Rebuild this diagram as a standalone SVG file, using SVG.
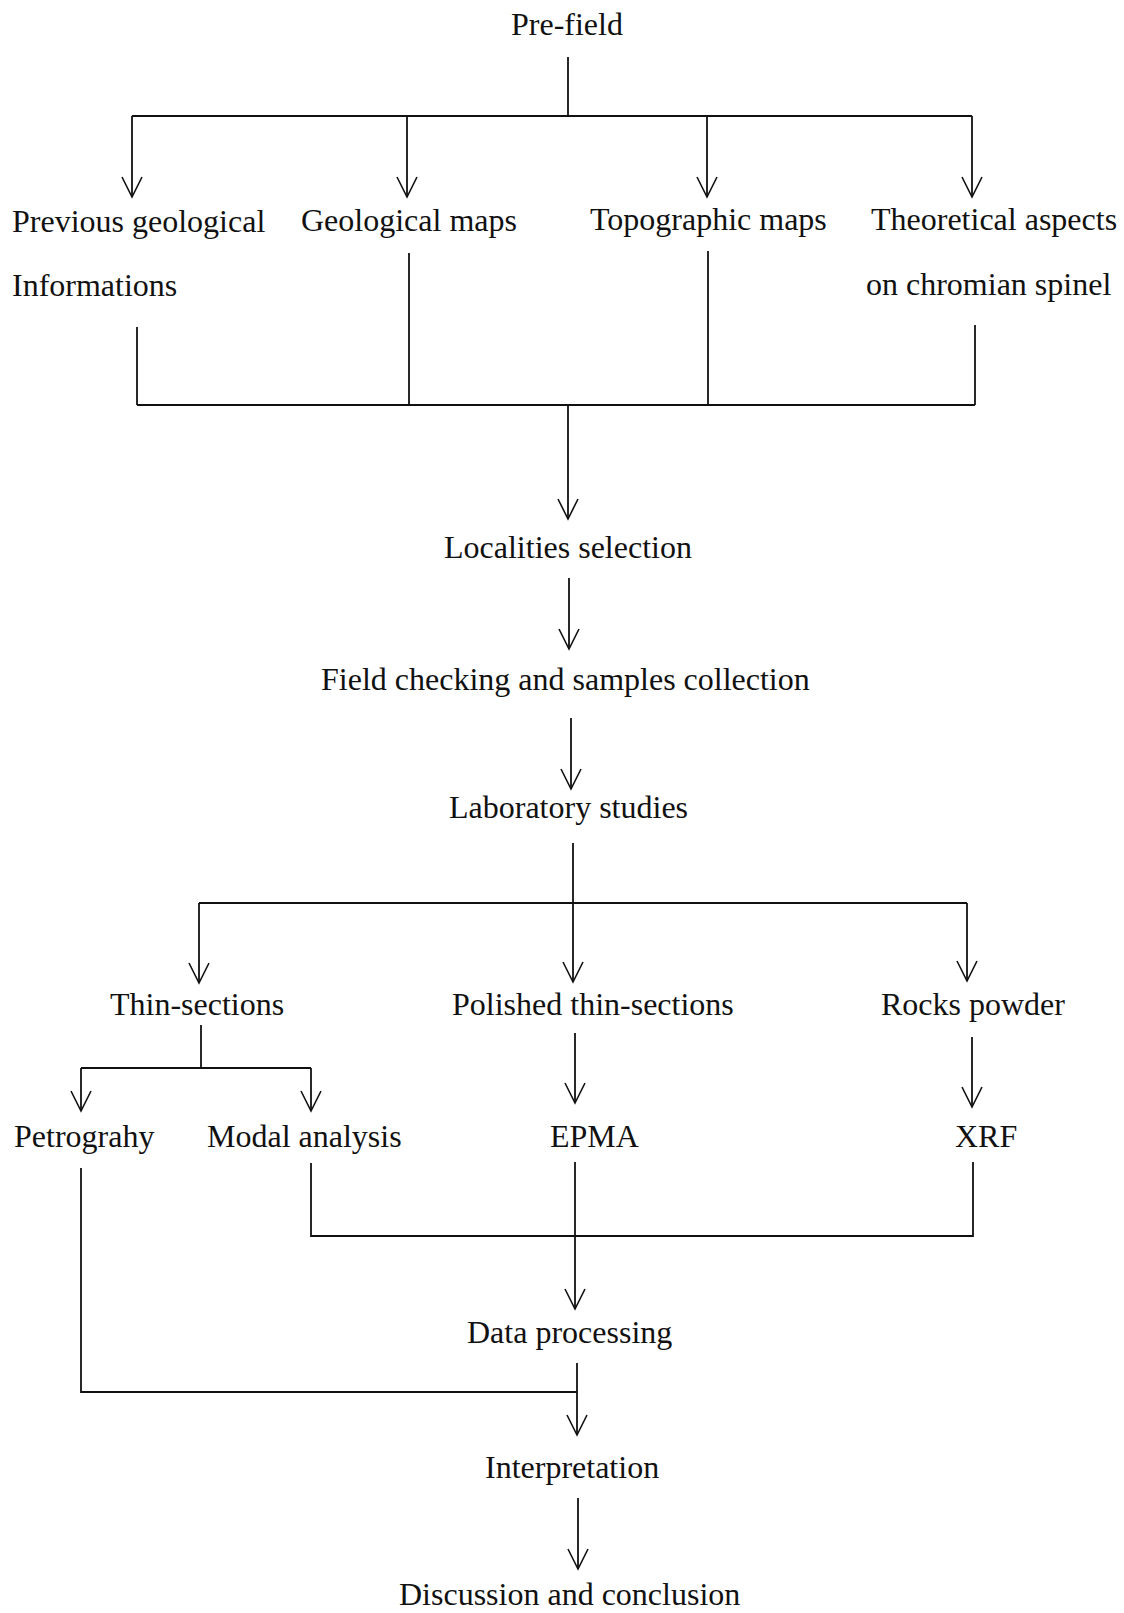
<svg xmlns="http://www.w3.org/2000/svg" width="1124" height="1613" viewBox="0 0 1124 1613">
<style>
  .t { font-family: "Liberation Serif", "Times New Roman", serif; font-size: 32px; fill: #111; }
  .c { fill: none; stroke: #111; stroke-width: 1.8; }
  .a { fill: none; stroke: #111; stroke-width: 1.8; marker-end: url(#ah); }
</style>
<defs>
  <marker id="ah" markerUnits="userSpaceOnUse" viewBox="-22 -12 24 24" markerWidth="24" markerHeight="24" refX="0" refY="0" orient="auto" overflow="visible">
    <path d="M-20,-10 L0,0 L-20,10" fill="none" stroke="#111" stroke-width="1.6"/>
  </marker>
</defs>
<rect width="1124" height="1613" fill="#fff"/>
<g id="connectors">
  <path class="c" d="M568,57 V116"/>
  <path class="c" d="M132,116 H972"/>
  <path class="a" d="M132,116 V197"/>
  <path class="a" d="M407,116 V197"/>
  <path class="a" d="M707,116 V197"/>
  <path class="a" d="M972,116 V197"/>
  <path class="c" d="M409,253 V405"/>
  <path class="c" d="M708,251 V405"/>
  <path class="c" d="M137,327 V405"/>
  <path class="c" d="M975,325 V405"/>
  <path class="c" d="M137,405 H975"/>
  <path class="a" d="M568,405 V519"/>
  <path class="a" d="M569,578 V649"/>
  <path class="a" d="M571,718 V789"/>
  <path class="a" d="M573,843 V982"/>
  <path class="c" d="M199,903 H967"/>
  <path class="a" d="M199,903 V983"/>
  <path class="a" d="M967,903 V981"/>
  <path class="c" d="M201,1025 V1068"/>
  <path class="c" d="M81,1068 H311"/>
  <path class="a" d="M81,1068 V1111"/>
  <path class="a" d="M311,1068 V1111"/>
  <path class="a" d="M575,1033 V1103"/>
  <path class="a" d="M972,1037 V1107"/>
  <path class="c" d="M81,1168 V1392 H577"/>
  <path class="c" d="M311,1163 V1236 H973 V1162"/>
  <path class="a" d="M575,1162 V1309"/>
  <path class="a" d="M577,1363 V1435"/>
  <path class="a" d="M578,1498 V1569"/>
</g>
<g id="prefield"><text class="t" x="511" y="35">Pre-field</text></g>
<g id="previous"><text class="t" x="12" y="232">Previous geological</text><text class="t" x="12" y="296">Informations</text></g>
<g id="geomaps"><text class="t" x="301" y="231">Geological maps</text></g>
<g id="topomaps"><text class="t" x="590" y="230">Topographic maps</text></g>
<g id="theoretical"><text class="t" x="871" y="230">Theoretical aspects</text><text class="t" x="866" y="295">on chromian spinel</text></g>
<g id="localities"><text class="t" x="444" y="558">Localities selection</text></g>
<g id="field"><text class="t" x="321" y="690">Field checking and samples collection</text></g>
<g id="lab"><text class="t" x="449" y="818">Laboratory studies</text></g>
<g id="thin"><text class="t" x="110" y="1015">Thin-sections</text></g>
<g id="polished"><text class="t" x="452" y="1015">Polished thin-sections</text></g>
<g id="rocks"><text class="t" x="881" y="1015">Rocks powder</text></g>
<g id="petro"><text class="t" x="14" y="1147">Petrograhy</text></g>
<g id="modal"><text class="t" x="207" y="1147">Modal analysis</text></g>
<g id="epma"><text class="t" x="550" y="1147">EPMA</text></g>
<g id="xrf"><text class="t" x="955" y="1147">XRF</text></g>
<g id="data"><text class="t" x="467" y="1343">Data processing</text></g>
<g id="interp"><text class="t" x="485" y="1478">Interpretation</text></g>
<g id="discussion"><text class="t" x="399" y="1605">Discussion and conclusion</text></g>
</svg>
